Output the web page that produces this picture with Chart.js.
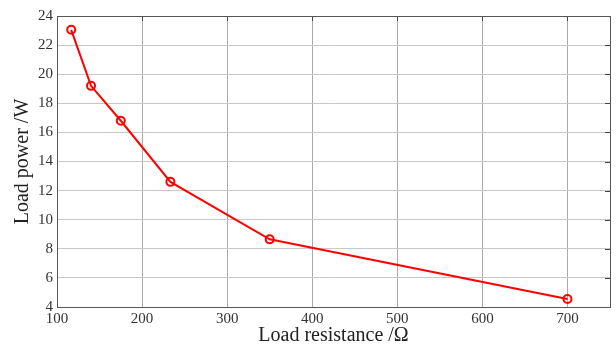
<!DOCTYPE html>
<html>
<head>
<meta charset="utf-8">
<script src="https://cdn.jsdelivr.net/npm/chart.js@4/dist/chart.umd.min.js"></script>
<style>
  html, body { margin: 0; padding: 0; background: #fff; }
  #wrap { width: 616px; height: 349px; }
</style>
</head>
<body>
<div id="wrap"><canvas id="chart"></canvas></div>
<script>
// load resistance (ohm) and power (W)
var resistance = [116.7, 140, 175, 233.3, 350, 700];
var power = [23.05, 19.2, 16.8, 12.6, 8.65, 4.55];
var xTicks = [100, 200, 300, 400, 500, 600, 700];
var yTicks = [4, 6, 8, 10, 12, 14, 16, 18, 20, 22, 24];

var serif = "'Liberation Serif', 'DejaVu Serif', serif";

// box round the plot area + inward ticks on right/top
var boxPlugin = {
    id: 'box',
    afterDraw: function (chart) {
        var a = chart.chartArea, ctx = chart.ctx;
        ctx.save();
        ctx.strokeStyle = '#444';
        ctx.lineWidth = 1;
        var x = chart.scales.x, y = chart.scales.y;
        ctx.beginPath();
        yTicks.forEach(function (v) {
            var py = Math.round(y.getPixelForValue(v)) + 0.5;
            ctx.moveTo(a.right, py); ctx.lineTo(a.right - 5, py);
        });
        xTicks.forEach(function (v) {
            var px = Math.round(x.getPixelForValue(v)) + 0.5;
            ctx.moveTo(px, a.top); ctx.lineTo(px, a.top + 5);
        });
        ctx.stroke();
        ctx.strokeStyle = '#555';
        ctx.strokeRect(Math.round(a.left) + 0.5, Math.round(a.top) + 0.5,
            Math.round(a.right - a.left), Math.round(a.bottom - a.top));
        ctx.restore();
    }
};

var points = resistance.map(function (r, i) { return {x: r, y: power[i]}; });

new Chart(document.getElementById('chart').getContext('2d'), {
    type: 'line',
    data: {
        datasets: [{
            data: points,
            borderColor: '#ff0000',
            backgroundColor: 'rgba(255,255,255,0)',
            borderWidth: 2,
            pointRadius: 4,
            pointBorderWidth: 2,
            pointBorderColor: '#ff0000',
            pointBackgroundColor: 'rgba(255,255,255,0)',
            tension: 0
        }]
    },
    options: {
        responsive: true,
        maintainAspectRatio: false,
        animation: false,
        layout: {padding: {left: 12, right: 6, top: 16, bottom: 3}},
        plugins: {legend: {display: false}, tooltip: {enabled: false}},
        scales: {
            x: {
                type: 'linear',
                min: 100,
                max: 750,
                afterBuildTicks: function (scale) {
                    scale.ticks = xTicks.map(function (v) { return {value: v}; });
                },
                grid: {color: '#aaa', drawTicks: false},
                border: {display: false},
                ticks: {color: '#333', padding: 3, font: {family: serif, size: 15}, maxRotation: 0},
                title: {display: true, text: 'Load resistance /\u03a9', color: '#222',
                    font: {family: serif, size: 20, lineHeight: 1.0}, padding: {top: -5, bottom: 0}}
            },
            y: {
                min: 4,
                max: 24,
                afterBuildTicks: function (scale) {
                    scale.ticks = yTicks.map(function (v) { return {value: v}; });
                },
                grid: {color: '#c8c8c8', drawTicks: false},
                border: {display: false},
                ticks: {color: '#333', padding: 4, font: {family: serif, size: 15}},
                title: {display: true, text: 'Load power /W', color: '#222',
                    font: {family: serif, size: 20, lineHeight: 1.1}, padding: {top: 0, bottom: 0}}
            }
        }
    },
    plugins: [boxPlugin]
});
</script>
</body>
</html>
